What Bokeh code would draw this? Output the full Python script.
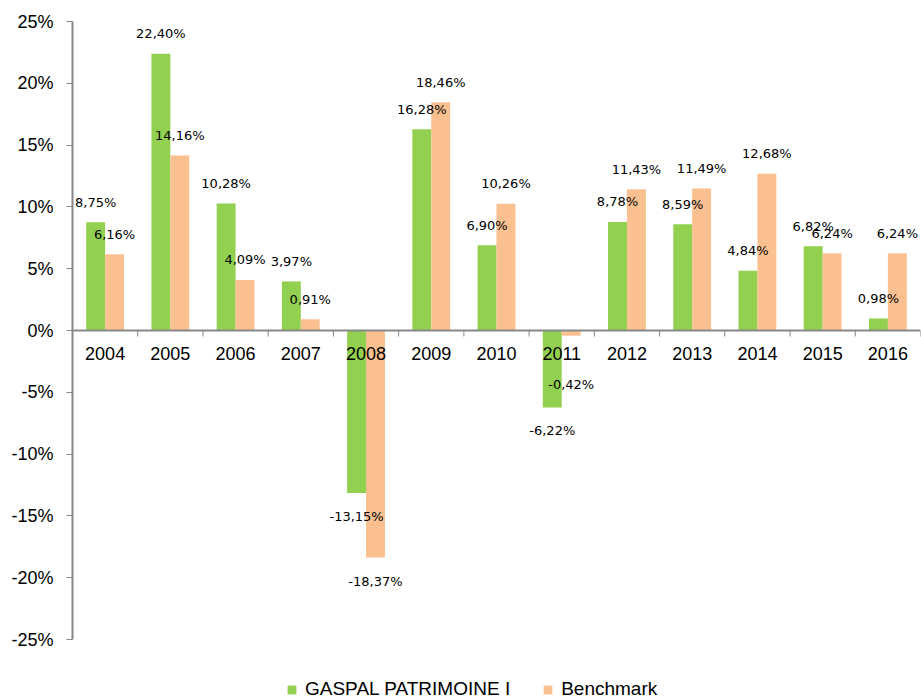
import math
from bokeh.plotting import figure
from bokeh.models import (Range1d, LinearAxis, FixedTicker, Span,
                          ColumnDataSource, Legend, LegendItem, PrintfTickFormatter)
from bokeh.transform import dodge
from bokeh.core.properties import value
from bokeh.embed import file_html
from bokeh.resources import INLINE

years = ["2004", "2005", "2006", "2007", "2008", "2009", "2010",
         "2011", "2012", "2013", "2014", "2015", "2016"]
fund = [8.75, 22.40, 10.28, 3.97, -13.15, 16.28, 6.90, -6.22, 8.78, 8.59, 4.84, 6.82, 0.98]
bench = [6.16, 14.16, 4.09, 0.91, -18.37, 18.46, 10.26, -0.42, 11.43, 11.49, 12.68, 6.24, 6.24]
y_ticks = [-25, -20, -15, -10, -5, 0, 5, 10, 15, 20, 25]

GREEN = "#92D050"
ORANGE = "#FAC090"
AXIS = "#888888"

n = len(years)
centers = [i + 0.5 for i in range(n)]   # category centres on a 0..n index scale
bounds = list(range(n + 1))             # category boundaries

Y_MIN, Y_MAX = -25, 25
AXIS_PX = 618                           # pixel length of the drawn value axis
LEGEND_PX = 61                          # room kept below the axis for the legend
y_low = Y_MIN - LEGEND_PX * (Y_MAX - Y_MIN) / AXIS_PX


def lab_pos(v):
    # label centred ~20px above positive bars, ~23px below negative bars
    return v + 1.62 if v >= 0 else min(v - 1.9, -4.4)


def fmt(v):
    return f"{v:.2f}".replace(".", ",") + "%"


src = ColumnDataSource(dict(
    xc=centers, year=years, fund=fund, bench=bench,
    fund_ly=[lab_pos(v) for v in fund], bench_ly=[lab_pos(v) for v in bench],
    fund_t=[fmt(v) for v in fund], bench_t=[fmt(v) for v in bench],
))
bsrc = ColumnDataSource(dict(xb=bounds, yb=[0] * len(bounds)))

p = figure(x_range=Range1d(0, n), y_range=Range1d(y_low, Y_MAX),
           width=921, height=700, output_backend="svg", toolbar_location=None,
           x_axis_location=None, y_axis_location=None,
           min_border_left=72, min_border_right=1, min_border_top=21, min_border_bottom=0)
p.outline_line_color = None
p.grid.visible = False

r1 = p.vbar(x=dodge("xc", -0.145), top="fund", width=0.29,
            source=src, fill_color=GREEN, line_color=None)
r2 = p.vbar(x=dodge("xc", 0.145), top="bench", width=0.29,
            source=src, fill_color=ORANGE, line_color=None)

for col, off in (("fund", -0.145), ("bench", 0.145)):
    p.text(x=dodge("xc", off), y=col + "_ly", text=col + "_t", source=src,
           text_align="center", text_baseline="middle", text_font=value("DejaVu Sans"),
           text_font_size="13px", text_color="#000000")

# y axis
yax = LinearAxis(ticker=FixedTicker(ticks=y_ticks), formatter=PrintfTickFormatter(format="%d%%"),
                 bounds=(Y_MIN, Y_MAX))
yax.major_tick_in = 0
yax.major_tick_out = 6
yax.minor_tick_line_color = None
yax.axis_line_color = AXIS
yax.axis_line_width = 2
yax.major_tick_line_color = AXIS
yax.major_tick_line_width = 1
yax.major_label_standoff = 13
yax.major_label_text_font = "Liberation Sans"
yax.major_label_text_font_size = "18px"
yax.major_label_text_color = "#000000"
p.add_layout(yax, "left")

# category axis drawn at y = 0: line, boundary ticks, year labels
p.add_layout(Span(location=0, dimension="width", line_color=AXIS, line_width=2))
p.ray(x="xb", y="yb", length=6, length_units="screen", angle=-math.pi / 2,
      source=bsrc, line_color=AXIS, line_width=1)
p.text(x="xc", y=0, text="year", source=src, y_offset=16,
       text_align="center", text_baseline="top", text_font=value("Liberation Sans"),
       text_font_size="18px", text_color="#000000")

legend = Legend(items=[LegendItem(label="GASPAL PATRIMOINE I", renderers=[r1]),
                       LegendItem(label="Benchmark", renderers=[r2])],
                orientation="horizontal", location=(214, 0),
                label_text_font="Liberation Sans", label_text_font_size="19px",
                label_text_color="#000000", label_standoff=8,
                glyph_width=11, glyph_height=11, spacing=32, padding=0, margin=0,
                border_line_color=None, background_fill_alpha=0)
p.add_layout(legend, "center")

open("out.html", "w").write(file_html(p, INLINE))
